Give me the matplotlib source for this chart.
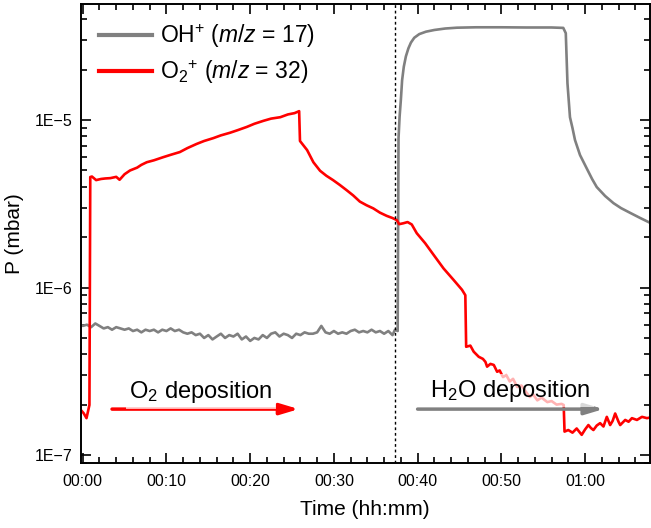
import numpy as np
import matplotlib
matplotlib.use("Agg")
import matplotlib.pyplot as plt
from matplotlib.ticker import MultipleLocator, FuncFormatter, LogLocator, NullFormatter

# --- fonts ---
plt.rcParams["font.family"] = ["Liberation Sans", "DejaVu Sans"]
plt.rcParams["mathtext.fontset"] = "custom"
plt.rcParams["mathtext.rm"] = "Liberation Sans"
plt.rcParams["mathtext.it"] = "Liberation Sans:italic"

# --- data (time in minutes, pressure in mbar) ---
# OH+ (m/z = 17)
oh_time = [-0.25, 0.0, 0.5, 1.0, 1.5, 2.0, 2.5, 3.0, 3.5, 4.0, 4.5, 5.0, 5.5, 6.0,
           6.5, 7.0, 7.5, 8.0, 8.5, 9.0, 9.5, 10.0, 10.5, 11.0, 11.5, 12.0, 12.5,
           13.0, 13.5, 14.0, 14.5, 15.0, 15.5, 16.0, 16.5, 17.0, 17.5, 18.0, 18.5,
           19.0, 19.5, 20.0, 20.5, 21.0, 21.5, 22.0, 22.5, 23.0, 23.5, 24.0, 24.5,
           25.0, 25.5, 26.0, 26.5, 27.0, 27.5, 28.0, 28.5, 29.0, 29.5, 30.0, 30.5,
           31.0, 31.5, 32.0, 32.5, 33.0, 33.5, 34.0, 34.5, 35.0, 35.5, 36.0, 36.5,
           37.0, 37.3, 37.62,
           37.72, 37.85, 38.0, 38.15, 38.35, 38.6, 38.9, 39.2, 39.6, 40.2, 41.0,
           42.0, 43.3, 44.7, 47.0, 50.0, 53.0, 56.0, 57.4, 57.7, 57.9, 58.2, 58.5,
           58.8, 59.4, 60.3, 60.85, 61.4, 62.4, 63.4, 64.3, 65.4, 66.6, 67.8]
oh_p = [6.0e-7, 5.9e-7, 6.0e-7, 5.8e-7, 6.1e-7, 5.9e-7, 5.7e-7, 5.8e-7, 5.6e-7,
        5.8e-7, 5.7e-7, 5.6e-7, 5.7e-7, 5.5e-7, 5.6e-7, 5.4e-7, 5.6e-7, 5.5e-7,
        5.6e-7, 5.4e-7, 5.6e-7, 5.5e-7, 5.7e-7, 5.5e-7, 5.6e-7, 5.4e-7, 5.3e-7,
        5.4e-7, 5.2e-7, 5.3e-7, 5.0e-7, 5.2e-7, 4.9e-7, 5.1e-7, 5.3e-7, 5.0e-7,
        5.2e-7, 5.1e-7, 5.3e-7, 4.9e-7, 5.1e-7, 4.8e-7, 5.0e-7, 4.9e-7, 5.2e-7,
        5.0e-7, 5.3e-7, 5.4e-7, 5.1e-7, 5.3e-7, 5.2e-7, 5.0e-7, 5.3e-7, 5.2e-7,
        5.4e-7, 5.3e-7, 5.3e-7, 5.4e-7, 5.9e-7, 5.4e-7, 5.3e-7, 5.5e-7, 5.3e-7,
        5.4e-7, 5.3e-7, 5.5e-7, 5.6e-7, 5.4e-7, 5.5e-7, 5.4e-7, 5.6e-7, 5.4e-7,
        5.5e-7, 5.3e-7, 5.5e-7, 5.2e-7, 5.6e-7, 5.5e-7,
        7.78e-6, 1.05e-5, 1.32e-5, 1.73e-5, 2.08e-5, 2.40e-5, 2.68e-5, 2.90e-5,
        3.10e-5, 3.26e-5, 3.37e-5, 3.45e-5, 3.52e-5, 3.56e-5, 3.58e-5, 3.58e-5,
        3.57e-5, 3.57e-5, 3.55e-5, 3.30e-5, 1.66e-5, 1.04e-5, 8.96e-6, 7.6e-6,
        6.18e-6, 5.03e-6, 4.44e-6, 3.98e-6, 3.52e-6, 3.19e-6, 2.98e-6, 2.79e-6,
        2.60e-6, 2.43e-6]

# O2+ (m/z = 32)
o2_time = [-0.24, 0.1, 0.45, 0.8, 0.9, 1.1, 1.6, 2.2, 2.7, 3.3, 4.0, 4.4, 5.0, 5.65,
           6.5, 7.0, 7.65, 8.5, 9.6, 10.5, 11.6, 12.5, 13.6, 14.5, 15.6, 16.5, 17.6,
           18.5, 19.6, 20.5, 21.6, 22.5, 23.6, 24.5, 25.3, 25.85, 25.95, 26.8, 27.55,
           28.35, 29.1, 29.9, 30.7, 31.5, 32.3, 33.1, 33.9, 34.7, 35.5, 36.3, 37.0,
           37.5, 37.8, 38.3, 38.8, 39.3, 39.9, 40.9, 41.9, 43.1, 44.3, 45.3, 45.7,
           45.8, 46.3, 46.7, 47.3, 47.8, 48.1, 48.3, 48.7, 49.1, 49.5, 49.8, 50.2,
           50.6, 51.0, 51.4, 51.9, 52.4, 52.9, 53.4, 53.8, 54.3, 54.8, 55.5, 56.0,
           56.6, 57.2, 57.45, 57.55, 58.0, 58.5, 59.0, 59.6, 60.0, 60.4, 60.7, 61.0,
           61.4, 61.8, 62.2, 62.6, 63.0, 63.3, 63.6, 64.0, 64.2, 64.8, 65.2, 65.6,
           66.2, 66.8, 67.4, 67.9]
o2_p = [1.86e-7, 1.78e-7, 1.66e-7, 1.99e-7, 4.57e-6, 4.6e-6, 4.38e-6, 4.45e-6,
        4.48e-6, 4.5e-6, 4.58e-6, 4.4e-6, 4.75e-6, 5.0e-6, 5.2e-6, 5.4e-6, 5.6e-6,
        5.75e-6, 6.0e-6, 6.2e-6, 6.44e-6, 6.8e-6, 7.2e-6, 7.5e-6, 7.8e-6, 8.1e-6,
        8.4e-6, 8.7e-6, 9.1e-6, 9.5e-6, 9.9e-6, 1.02e-5, 1.04e-5, 1.08e-5, 1.10e-5,
        1.13e-5, 7.5e-6, 6.62e-6, 5.6e-6, 4.98e-6, 4.65e-6, 4.38e-6, 4.1e-6, 3.82e-6,
        3.55e-6, 3.26e-6, 3.1e-6, 2.97e-6, 2.8e-6, 2.68e-6, 2.6e-6, 2.53e-6, 2.39e-6,
        2.42e-6, 2.46e-6, 2.38e-6, 2.11e-6, 1.84e-6, 1.57e-6, 1.30e-6, 1.11e-6,
        9.7e-7, 9.0e-7, 4.43e-7, 4.5e-7, 4.14e-7, 3.86e-7, 3.75e-7, 3.6e-7, 3.37e-7,
        3.5e-7, 3.45e-7, 3.14e-7, 3.2e-7, 2.92e-7, 3.0e-7, 2.75e-7, 2.85e-7, 2.55e-7,
        2.6e-7, 2.4e-7, 2.22e-7, 2.3e-7, 2.12e-7, 2.2e-7, 2.07e-7, 2.1e-7, 2.0e-7,
        2.02e-7, 1.99e-7, 1.38e-7, 1.41e-7, 1.36e-7, 1.44e-7, 1.32e-7, 1.42e-7,
        1.51e-7, 1.45e-7, 1.41e-7, 1.5e-7, 1.55e-7, 1.48e-7, 1.69e-7, 1.51e-7, 1.6e-7,
        1.77e-7, 1.58e-7, 1.51e-7, 1.62e-7, 1.58e-7, 1.66e-7, 1.62e-7, 1.69e-7,
        1.66e-7, 1.68e-7]

switch_time = 37.3          # dotted line: O2 -> H2O
o2_arrow = (3.5, 25.8)      # start / end of the deposition arrows (min)
h2o_arrow = (40.0, 62.2)
arrow_level = 1.88e-7

# --- figure ---
fig = plt.figure(figsize=(6.51, 5.28), dpi=100)
ax = fig.add_axes([0.124, 0.1237, 0.8737, 0.8687])

ax.plot(oh_time, oh_p, color="#808080", lw=1.9, label=r"OH$^{+}$ ($\mathit{m/z}$ = 17)")
ax.plot(o2_time, o2_p, color="#ff0000", lw=1.9, label=r"O$_{2}$$^{+}$ ($\mathit{m/z}$ = 32)")
ax.axvline(switch_time, color="black", ls=(0, (2, 2)), lw=1.0)

ax.set_yscale("log")
ax.set_xlim(-0.24, 67.7)
ax.set_ylim(9.0e-8, 4.93e-5)

ax.xaxis.set_major_locator(MultipleLocator(10))
ax.xaxis.set_minor_locator(MultipleLocator(2))
ax.xaxis.set_major_formatter(FuncFormatter(lambda v, _: f"{int(v // 60):02d}:{int(round(v % 60)):02d}"))
ax.yaxis.set_major_locator(LogLocator(base=10, numticks=10))
ax.yaxis.set_minor_locator(LogLocator(base=10, subs=np.arange(2, 10), numticks=10))
ax.yaxis.set_major_formatter(FuncFormatter(lambda v, _: f"1E\u2212{int(round(-np.log10(v)))}"))
ax.yaxis.set_minor_formatter(NullFormatter())

ax.tick_params(which="both", direction="in", top=True, right=True, labelsize=11.5, width=1.2)
ax.tick_params(which="major", length=7)
ax.tick_params(which="minor", length=4)
ax.tick_params(axis="x", pad=8)
ax.tick_params(axis="y", pad=6)
for s in ax.spines.values():
    s.set_linewidth(1.4)

ax.set_xlabel("Time (hh:mm)", fontsize=15, labelpad=8)
ax.set_ylabel("P (mbar)", fontsize=15, labelpad=8)

leg = ax.legend(loc="upper left", frameon=False, fontsize=16.5, handlelength=2.3,
                handletextpad=0.35, labelspacing=0.35, borderaxespad=0.4,
                bbox_to_anchor=(0.0, 1.0))
for line in leg.get_lines():
    line.set_linewidth(3)

# deposition arrows and labels
box = dict(boxstyle="square,pad=0.15", facecolor="white", edgecolor="none", alpha=0.7)
ax.annotate("", xy=(o2_arrow[1], arrow_level), xytext=(o2_arrow[0], arrow_level),
            arrowprops=dict(arrowstyle="-|>,head_length=1.1,head_width=0.33",
                            color="#ff0000", lw=2.5, mutation_scale=10, shrinkA=0, shrinkB=0))
ax.annotate("", xy=(h2o_arrow[1], arrow_level), xytext=(h2o_arrow[0], arrow_level),
            arrowprops=dict(arrowstyle="-|>,head_length=1.1,head_width=0.33",
                            color="#808080", lw=2.5, mutation_scale=10, shrinkA=0, shrinkB=0))
ax.text(5.55, 2.18e-7, r"O$_2$ deposition", fontsize=17, ha="left", va="baseline",
        bbox=box, zorder=5)
ax.text(41.5, 2.23e-7, r"H$_2$O deposition", fontsize=17, ha="left", va="baseline",
        bbox=box, zorder=5)

fig.savefig("out.png", dpi=100)
